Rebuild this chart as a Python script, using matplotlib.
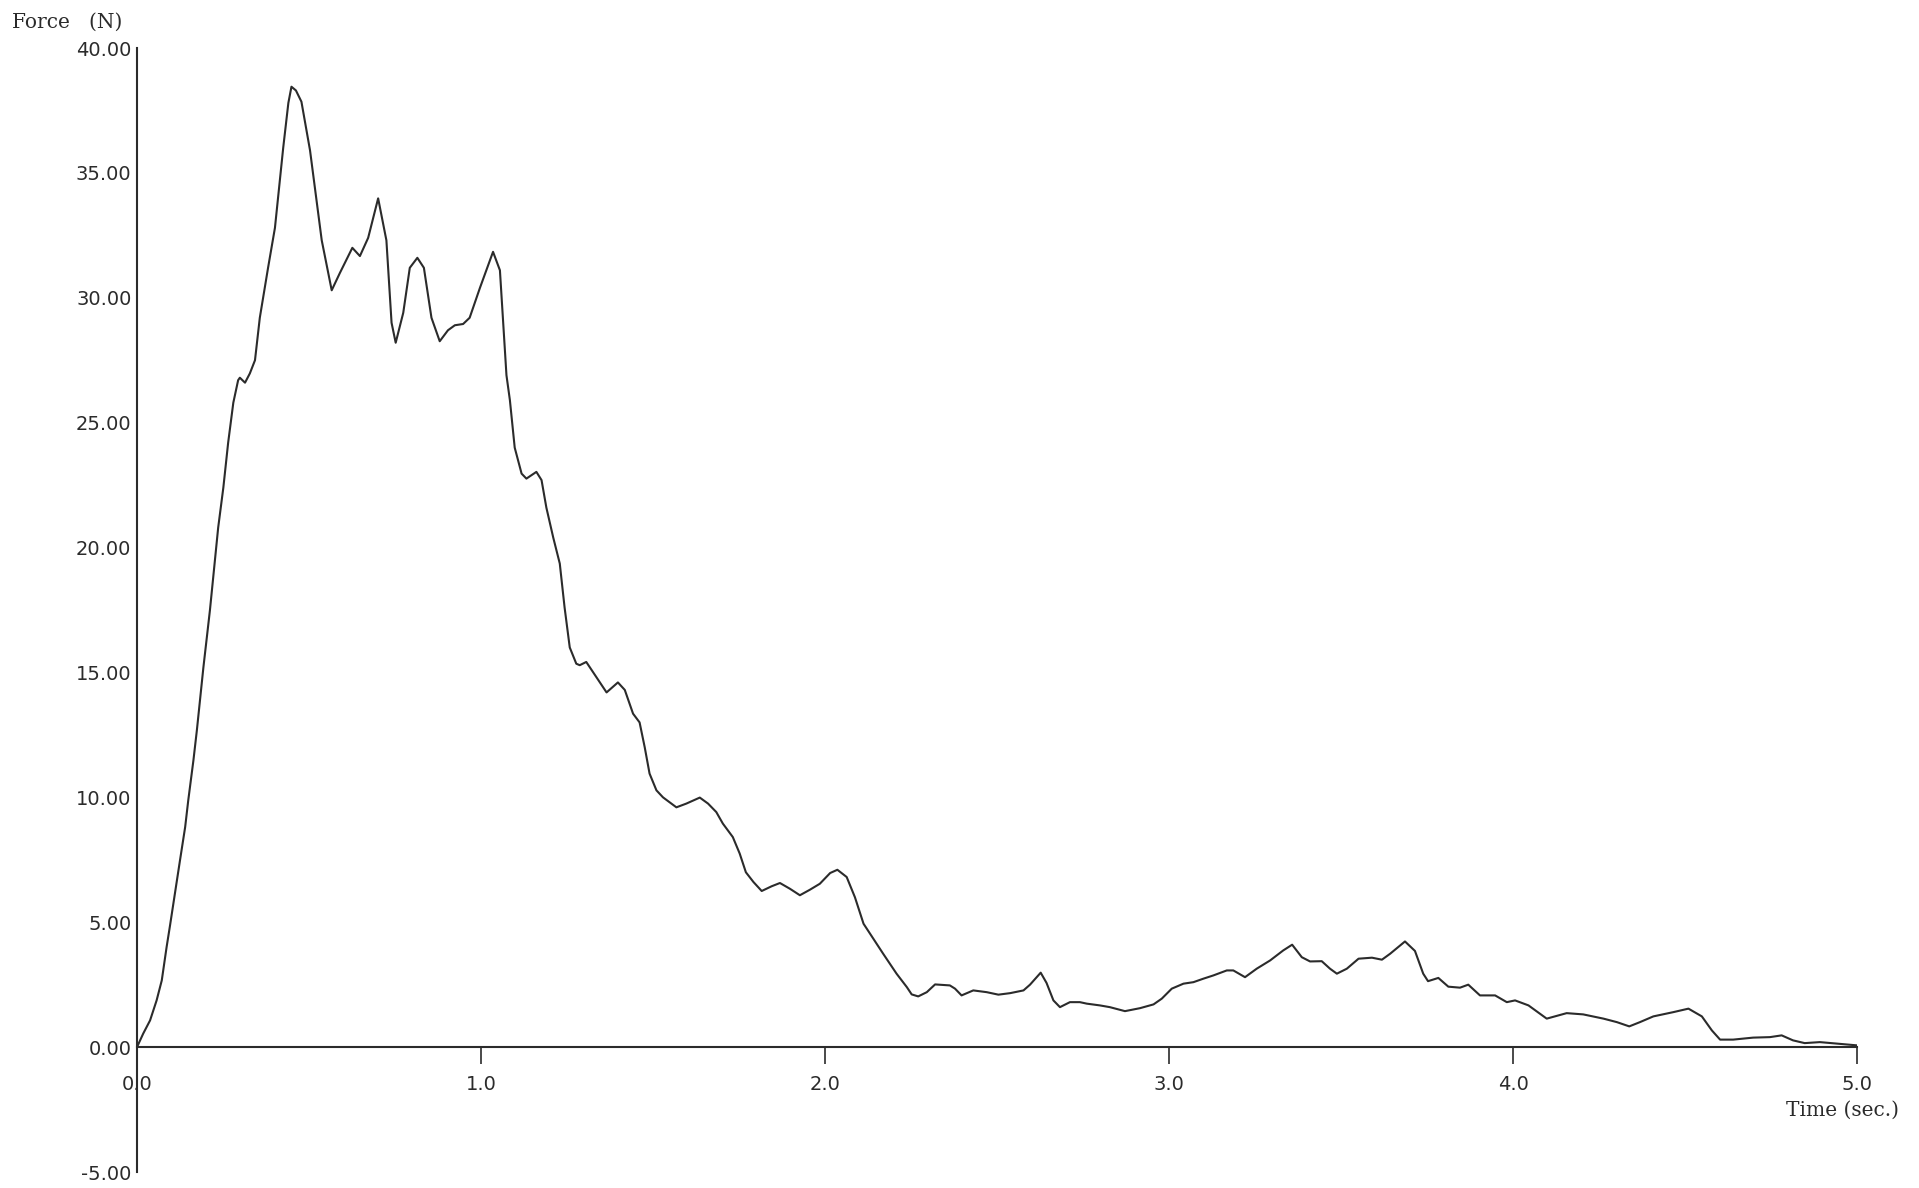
import matplotlib
matplotlib.use("Agg")
import matplotlib.pyplot as plt

# force trace
time_s = [
    0.000, 0.018, 0.038, 0.057, 0.072, 0.086, 0.096, 0.110, 0.125, 0.140,
    0.149, 0.164, 0.174, 0.183, 0.193, 0.212, 0.236, 0.251, 0.265, 0.280,
    0.294, 0.299, 0.314, 0.328, 0.343, 0.357, 0.381, 0.401, 0.425, 0.440,
    0.449, 0.462, 0.478, 0.503, 0.537, 0.566, 0.590, 0.626, 0.648, 0.672,
    0.701, 0.725, 0.740, 0.752, 0.774, 0.793, 0.815, 0.834, 0.856, 0.880,
    0.904, 0.924, 0.948, 0.967, 0.997, 1.035, 1.055, 1.074, 1.084, 1.098,
    1.118, 1.132, 1.161, 1.176, 1.190, 1.210, 1.229, 1.243, 1.258, 1.277,
    1.287, 1.306, 1.336, 1.365, 1.398, 1.418, 1.442, 1.461, 1.476, 1.490,
    1.510, 1.529, 1.568, 1.597, 1.636, 1.660, 1.684, 1.703, 1.732, 1.752,
    1.770, 1.792, 1.816, 1.845, 1.869, 1.898, 1.927, 1.956, 1.985, 2.015,
    2.036, 2.063, 2.087, 2.112, 2.131, 2.169, 2.208, 2.238, 2.252, 2.271,
    2.296, 2.320, 2.363, 2.378, 2.397, 2.431, 2.470, 2.504, 2.538, 2.577,
    2.596, 2.627, 2.644, 2.664, 2.683, 2.712, 2.741, 2.761, 2.799, 2.828,
    2.872, 2.916, 2.955, 2.979, 3.008, 3.042, 3.071, 3.100, 3.129, 3.168,
    3.187, 3.221, 3.255, 3.294, 3.332, 3.358, 3.386, 3.410, 3.444, 3.468,
    3.488, 3.517, 3.551, 3.590, 3.619, 3.643, 3.686, 3.715, 3.739, 3.753,
    3.783, 3.812, 3.846, 3.870, 3.904, 3.948, 3.982, 4.006, 4.045, 4.098,
    4.156, 4.204, 4.263, 4.302, 4.338, 4.369, 4.408, 4.466, 4.510, 4.549,
    4.578, 4.602, 4.640, 4.698, 4.747, 4.781, 4.814, 4.848, 4.892, 4.941,
    5.000,
]
force_n = [
    0.00, 0.54, 1.07, 1.87, 2.67, 4.00, 4.87, 6.14, 7.48, 8.81,
    9.88, 11.48, 12.68, 13.88, 15.20, 17.49, 20.80, 22.40, 24.20, 25.80,
    26.70, 26.80, 26.60, 26.97, 27.50, 29.20, 31.20, 32.80, 36.00, 37.80,
    38.45, 38.30, 37.85, 35.90, 32.30, 30.30, 31.00, 32.00, 31.67, 32.40,
    33.98, 32.30, 29.00, 28.20, 29.40, 31.20, 31.60, 31.20, 29.20, 28.26,
    28.70, 28.90, 28.95, 29.20, 30.40, 31.84, 31.10, 26.90, 25.90, 24.00,
    22.96, 22.76, 23.03, 22.70, 21.60, 20.40, 19.36, 17.60, 16.00, 15.35,
    15.29, 15.42, 14.80, 14.20, 14.60, 14.30, 13.35, 13.00, 12.00, 10.95,
    10.28, 10.00, 9.60, 9.75, 9.99, 9.75, 9.41, 8.95, 8.41, 7.75,
    7.00, 6.61, 6.25, 6.44, 6.57, 6.34, 6.08, 6.30, 6.54, 6.97,
    7.10, 6.81, 6.00, 4.94, 4.54, 3.74, 2.94, 2.40, 2.11, 2.03,
    2.20, 2.51, 2.47, 2.34, 2.07, 2.27, 2.20, 2.10, 2.16, 2.27,
    2.50, 2.98, 2.57, 1.87, 1.60, 1.80, 1.80, 1.74, 1.67, 1.60,
    1.44, 1.56, 1.71, 1.94, 2.34, 2.54, 2.60, 2.74, 2.87, 3.07,
    3.07, 2.80, 3.14, 3.47, 3.87, 4.10, 3.60, 3.43, 3.44, 3.14,
    2.94, 3.14, 3.54, 3.58, 3.50, 3.74, 4.23, 3.85, 2.94, 2.64,
    2.77, 2.42, 2.38, 2.50, 2.07, 2.07, 1.80, 1.87, 1.67, 1.14,
    1.36, 1.31, 1.14, 1.00, 0.83, 1.00, 1.23, 1.40, 1.54, 1.23,
    0.67, 0.30, 0.30, 0.38, 0.40, 0.47, 0.27, 0.16, 0.20, 0.14,
    0.07,
]

x_ticks = [0.0, 1.0, 2.0, 3.0, 4.0, 5.0]
y_ticks = [-5, 0, 5, 10, 15, 20, 25, 30, 35, 40]

W, H = 1919, 1188
fig = plt.figure(figsize=(W / 100, H / 100), dpi=100)
ax = fig.add_axes([137 / W, 1 - 1172 / H, (1857 - 137) / W, (1172 - 48) / H])

ink = "#2b2b2b"
ax.plot(time_s, force_n, color=ink, lw=1.5, solid_joinstyle="round")

ax.set_xlim(0, 5)
ax.set_ylim(-5, 40)

for side in ("top", "right"):
    ax.spines[side].set_visible(False)
ax.spines["bottom"].set_position(("data", 0))
for side in ("left", "bottom"):
    ax.spines[side].set_color(ink)
    ax.spines[side].set_linewidth(1.5)

ax.set_xticks(x_ticks)
ax.set_xticklabels([f"{v:.1f}" for v in x_ticks])
ax.set_yticks(y_ticks)
ax.set_yticklabels([f"{v:.2f}" for v in y_ticks])

ax.tick_params(axis="x", direction="out", length=12, width=1.2, color=ink,
               pad=8, labelsize=14, labelcolor=ink)
ax.tick_params(axis="y", length=0, pad=4, labelsize=14, labelcolor=ink)

serif = ["DejaVu Serif"]
fig.text(12 / W, 1 - 22 / H, "Force   (N)", family=serif, fontsize=14.5,
         color=ink, ha="left", va="center")
fig.text(1842 / W, 1 - 1110 / H, "Time (sec.)", family=serif, fontsize=14.5,
         color=ink, ha="center", va="center")

fig.savefig("out.png", dpi=100, facecolor="white")
